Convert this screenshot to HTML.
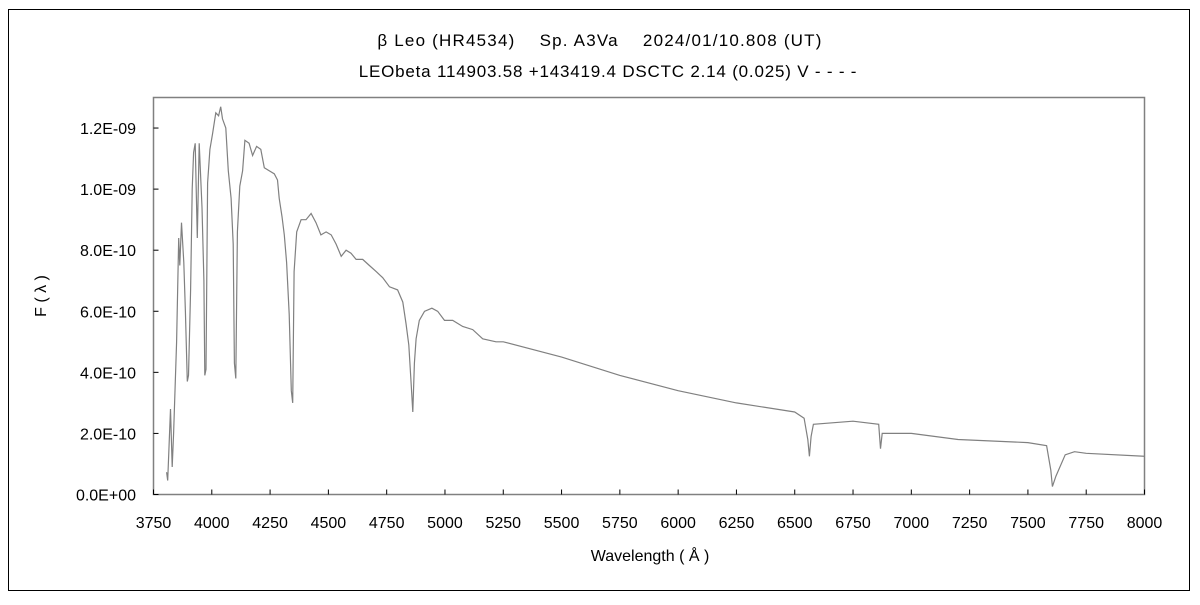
<!DOCTYPE html>
<html><head><meta charset="utf-8"><style>
body{margin:0;background:#fff;}
svg text{font-family:"Liberation Sans","Noto Sans CJK JP",sans-serif;fill:#000;}
</style></head><body>
<svg id="chart" width="1200" height="600" xmlns="http://www.w3.org/2000/svg">
<rect x="8.5" y="9.5" width="1181" height="581" fill="#fff" stroke="#000" stroke-width="1"/>
<text x="600" y="46" font-size="17" letter-spacing="1.2" text-anchor="middle">β Leo (HR4534)　 Sp. A3Va　 2024/01/10.808 (UT)</text>
<text x="608" y="77" font-size="17" letter-spacing="0.8" text-anchor="middle">LEObeta 114903.58 +143419.4 DSCTC 2.14 (0.025) V - - - -</text>
<rect x="153.5" y="97.5" width="991" height="397" fill="none" stroke="#808080" stroke-width="1.5"/>
<g id="axes"></g>
<path id="line" fill="none" stroke="#808080" stroke-width="1.2"/>
<text transform="translate(46,296) rotate(-90)" font-size="16" text-anchor="middle">F ( λ )</text>
<text x="650" y="561" font-size="16" text-anchor="middle">Wavelength ( Å )</text>
</svg>
<script>
const wavelengths=[3806,3811,3823,3830,3836,3849,3858,3863,3870,3880,3887,3895,3900,3909,3916,3922,3929,3938,3946,3951,3958,3966,3970,3975,3982,3992,4003,4017,4029,4038,4046,4060,4071,4083,4092,4097,4103,4110,4120,4132,4142,4160,4175,4192,4210,4225,4246,4268,4282,4289,4301,4311,4321,4332,4341,4347,4353,4364,4383,4404,4426,4447,4468,4490,4512,4533,4555,4576,4597,4619,4647,4676,4705,4733,4762,4797,4819,4833,4845,4855,4862,4869,4876,4890,4912,4944,4969,4998,5033,5076,5119,5162,5219,5250,5500,5750,6000,6250,6500,6540,6556,6563,6570,6580,6750,6860,6868,6875,6900,7000,7200,7500,7580,7598,7605,7620,7660,7700,7750,8000];
const flux=[0.73,0.46,2.8,0.9,2.0,5.0,8.4,7.5,8.9,7.6,6.0,3.7,3.9,6.7,10.0,11.2,11.5,8.4,11.5,10.6,9.4,7.0,3.9,4.1,10.2,11.3,11.8,12.5,12.4,12.7,12.3,12.0,10.6,9.7,8.2,4.3,3.8,8.6,10.1,10.6,11.6,11.5,11.1,11.4,11.3,10.7,10.6,10.5,10.3,9.7,9.1,8.5,7.6,5.9,3.4,3.0,7.3,8.6,9.0,9.0,9.2,8.9,8.5,8.6,8.5,8.2,7.8,8.0,7.9,7.7,7.7,7.5,7.3,7.1,6.8,6.7,6.3,5.6,4.9,3.6,2.7,4.3,5.1,5.7,6.0,6.1,6.0,5.7,5.7,5.5,5.4,5.1,5.0,5.0,4.5,3.9,3.4,3.0,2.7,2.5,1.8,1.25,1.9,2.3,2.4,2.3,1.5,2.0,2.0,2.0,1.8,1.7,1.6,0.8,0.26,0.6,1.3,1.4,1.35,1.25];
const xTicks=[3750,4000,4250,4500,4750,5000,5250,5500,5750,6000,6250,6500,6750,7000,7250,7500,7750,8000];
const yTicks=[0,2,4,6,8,10,12];
const yTickLabels=["0.0E+00","2.0E-10","4.0E-10","6.0E-10","8.0E-10","1.0E-09","1.2E-09"];
const X0=153.5,X1=1144.5,Y0=494.5,Y1=97.5;
function xs(w){return X0+(w-3750)/(8000-3750)*(X1-X0);}
function ys(f){return Y0-f/13*(Y0-Y1);}
const ns="http://www.w3.org/2000/svg";
const axes=document.getElementById('axes');
xTicks.forEach(t=>{
  const l=document.createElementNS(ns,'line');
  
  
  l.setAttribute('x1',xs(t));l.setAttribute('x2',xs(t));l.setAttribute('y1',Y0);l.setAttribute('y2',Y0-5);
  l.setAttribute('stroke','#000');axes.appendChild(l);
  const tx=document.createElementNS(ns,'text');
  
  
  tx.setAttribute('x',xs(t));tx.setAttribute('y',528);tx.setAttribute('font-size','16');tx.setAttribute('text-anchor','middle');
  tx.textContent=t;axes.appendChild(tx);
});
yTicks.forEach((t,i)=>{
  const l=document.createElementNS(ns,'line');
  
  
  l.setAttribute('x1',X0);l.setAttribute('x2',X0+5);l.setAttribute('y1',ys(t));l.setAttribute('y2',ys(t));
  l.setAttribute('stroke','#000');axes.appendChild(l);
  const tx=document.createElementNS(ns,'text');
  
  
  tx.setAttribute('x',136);tx.setAttribute('y',ys(t)+6);tx.setAttribute('font-size','16');tx.setAttribute('text-anchor','end');
  tx.textContent=yTickLabels[i];axes.appendChild(tx);
});
let d='';
wavelengths.forEach((w,i)=>{d+=(i?'L':'M')+xs(w).toFixed(1)+' '+ys(flux[i]).toFixed(1);});
document.getElementById('line').setAttribute('d',d);
</script>
</body></html>
